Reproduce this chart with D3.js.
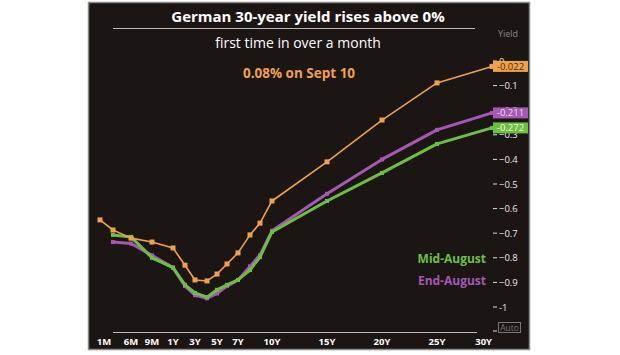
<!DOCTYPE html>
<html><head><meta charset="utf-8">
<script src="https://cdn.jsdelivr.net/npm/d3@7"></script>
<style>
html,body{margin:0;padding:0;background:#fff;}
svg{display:block;}
text{font-family:"Open Sans","DejaVu Sans",sans-serif;}
</style></head>
<body>
<svg id="c" width="620" height="355"></svg>
<script>
// ---- data ----
const tenors = ["1M","3M","6M","9M","1Y","2Y","3Y","4Y","5Y","6Y","7Y","8Y","9Y","10Y","15Y","20Y","25Y","30Y"];
const tenorYears = [1/12,0.25,0.5,0.75,1,2,3,4,5,6,7,8,9,10,15,20,25,30];
const sept10 = [-0.646,-0.687,-0.72,-0.736,-0.76,-0.83,-0.89,-0.894,-0.866,-0.825,-0.78,-0.707,-0.659,-0.569,-0.41,-0.24,-0.089,-0.022];
const midAugust = [null,-0.707,-0.715,-0.80,-0.84,-0.91,-0.943,-0.96,-0.93,-0.91,-0.89,-0.85,-0.797,-0.695,-0.569,-0.455,-0.337,-0.272];
const endAugust = [null,-0.736,-0.742,-0.79,-0.84,-0.915,-0.952,-0.965,-0.945,-0.915,-0.89,-0.835,-0.789,-0.69,-0.54,-0.40,-0.28,-0.211];
const xTickLabels = ["1M","6M","9M","1Y","3Y","5Y","7Y","10Y","15Y","20Y","25Y","30Y"];
const xTickYears = [1/12,0.5,0.75,1,3,5,7,10,15,20,25,30];
const yTicks = [0,-0.1,-0.2,-0.3,-0.4,-0.5,-0.6,-0.7,-0.8,-0.9,-1];
const endLabels = ["-0.022","-0.211","-0.272"];
const seriesNames = ["Sept 10","Mid-August","End-August"];

const svg = d3.select("#c");
const C = {bg:"#1b1514", orange:"#f0a24a", green:"#6cc040", purple:"#a558b4"};

// frame
svg.append("rect").attr("x",88.5).attr("y",2.5).attr("width",441).attr("height",347)
  .attr("fill",C.bg).attr("stroke","#8a8a8a").attr("stroke-width",1.5);

// scales (Bloomberg-style compressed short end)
const x = d3.scaleLinear()
  .domain([1/12,0.25,0.5,0.75,1,2,3,4,5,6,7,8,9,10,30])
  .range([100,113,131,152,173,185,195,207,217,227,238,250,260,272,492]);
const y = d3.scaleLinear().domain([0,-1]).range([61,307]);

// title
svg.append("text").attr("x",308).attr("y",22).attr("text-anchor","middle")
  .attr("fill","#fff").attr("font-weight","bold").attr("font-size",15)
  .text("German 30-year yield rises above 0%");
svg.append("line").attr("x1",113).attr("x2",475).attr("y1",28.5).attr("y2",28.5)
  .attr("stroke","#b8b8b8").attr("stroke-width",1.2);
svg.append("text").attr("x",298).attr("y",48).attr("text-anchor","middle")
  .attr("fill","#fff").attr("font-size",14).text("first time in over a month");
svg.append("text").attr("x",299).attr("y",78).attr("text-anchor","middle")
  .attr("fill",C.orange).attr("font-weight","bold").attr("font-size",13.5).text("0.08% on Sept 10");

// y axis (right)
svg.append("text").attr("x",508).attr("y",37).attr("text-anchor","middle")
  .attr("fill","#8a8a8a").attr("font-size",9).text("Yield");
const ya = svg.append("g");
yTicks.forEach(v=>{
  ya.append("line").attr("x1",493).attr("x2",497).attr("y1",y(v)).attr("y2",y(v))
    .attr("stroke","#ddd").attr("stroke-width",1);
  ya.append("text").attr("x",499).attr("y",y(v)+3.5).attr("fill","#e8e8e8")
    .attr("font-size",9.5).text(v===0?"0":(v===-1?"-1":d3.format(".1f")(v)));
});
// Auto box
svg.append("line").attr("x1",493).attr("x2",497).attr("y1",331).attr("y2",331).attr("stroke","#ddd");
svg.append("rect").attr("x",498.5).attr("y",322.5).attr("width",22).attr("height",10)
  .attr("fill","none").attr("stroke","#777").attr("stroke-width",1);
svg.append("text").attr("x",509.5).attr("y",330.5).attr("text-anchor","middle")
  .attr("fill","#777").attr("font-size",8.5).text("Auto");

// x axis
svg.append("line").attr("x1",113).attr("x2",477).attr("y1",332.5).attr("y2",332.5)
  .attr("stroke","#bbb").attr("stroke-width",1.2);
xTickLabels.forEach((t,i)=>{
  const xx = x(xTickYears[i]);
  const last = i===xTickLabels.length-1;
  svg.append("text").attr("x", i===0? xx+4 : xx)
    .attr("y",345).attr("text-anchor", last?"end":"middle")
    .attr("fill","#fff").attr("font-weight","bold").attr("font-size",9.5).text(t);
});

// series
const series = [
  {vals:midAugust, color:C.green, w:3, m:4},
  {vals:endAugust, color:C.purple, w:3, m:4},
  {vals:sept10, color:C.orange, w:1.6, m:5},
];
const order = [series[1], series[0], series[2]];
order.forEach(s=>{
  const pts = tenorYears.map((t,i)=>({t, v:s.vals[i]})).filter(d=>d.v!==null);
  const line = d3.line().x(d=>x(d.t)).y(d=>y(d.v));
  svg.append("path").datum(pts).attr("d",line).attr("fill","none")
    .attr("stroke",s.color).attr("stroke-width",s.w).attr("stroke-linejoin","round");
  svg.selectAll(null).data(pts).enter().append("rect")
    .attr("x",d=>x(d.t)-s.m/2).attr("y",d=>y(d.v)-s.m/2)
    .attr("width",s.m).attr("height",s.m).attr("fill",s.color);
});

// end labels
const endSeries = [
  {v:sept10[17], color:C.orange, txt:endLabels[0], tc:"#4a2a00"},
  {v:endAugust[17], color:C.purple, txt:endLabels[1], tc:"#f0d8f4"},
  {v:midAugust[17], color:C.green, txt:endLabels[2], tc:"#eaffdf"},
];
endSeries.forEach(e=>{
  const yy = y(e.v);
  svg.append("rect").attr("x",x(30)+1).attr("y",yy-5.5).attr("width",35).attr("height",11)
    .attr("fill",e.color);
  svg.append("text").attr("x",x(30)+18.5).attr("y",yy+3.5).attr("text-anchor","middle")
    .attr("fill",e.tc).attr("font-size",9.5).text(e.txt);
});

// legend
svg.append("text").attr("x",486).attr("y",263).attr("text-anchor","end")
  .attr("fill",C.green).attr("font-weight","bold").attr("font-size",12).text(seriesNames[1]);
svg.append("text").attr("x",486).attr("y",285).attr("text-anchor","end")
  .attr("fill",C.purple).attr("font-weight","bold").attr("font-size",12).text(seriesNames[2]);
</script>
</body></html>
